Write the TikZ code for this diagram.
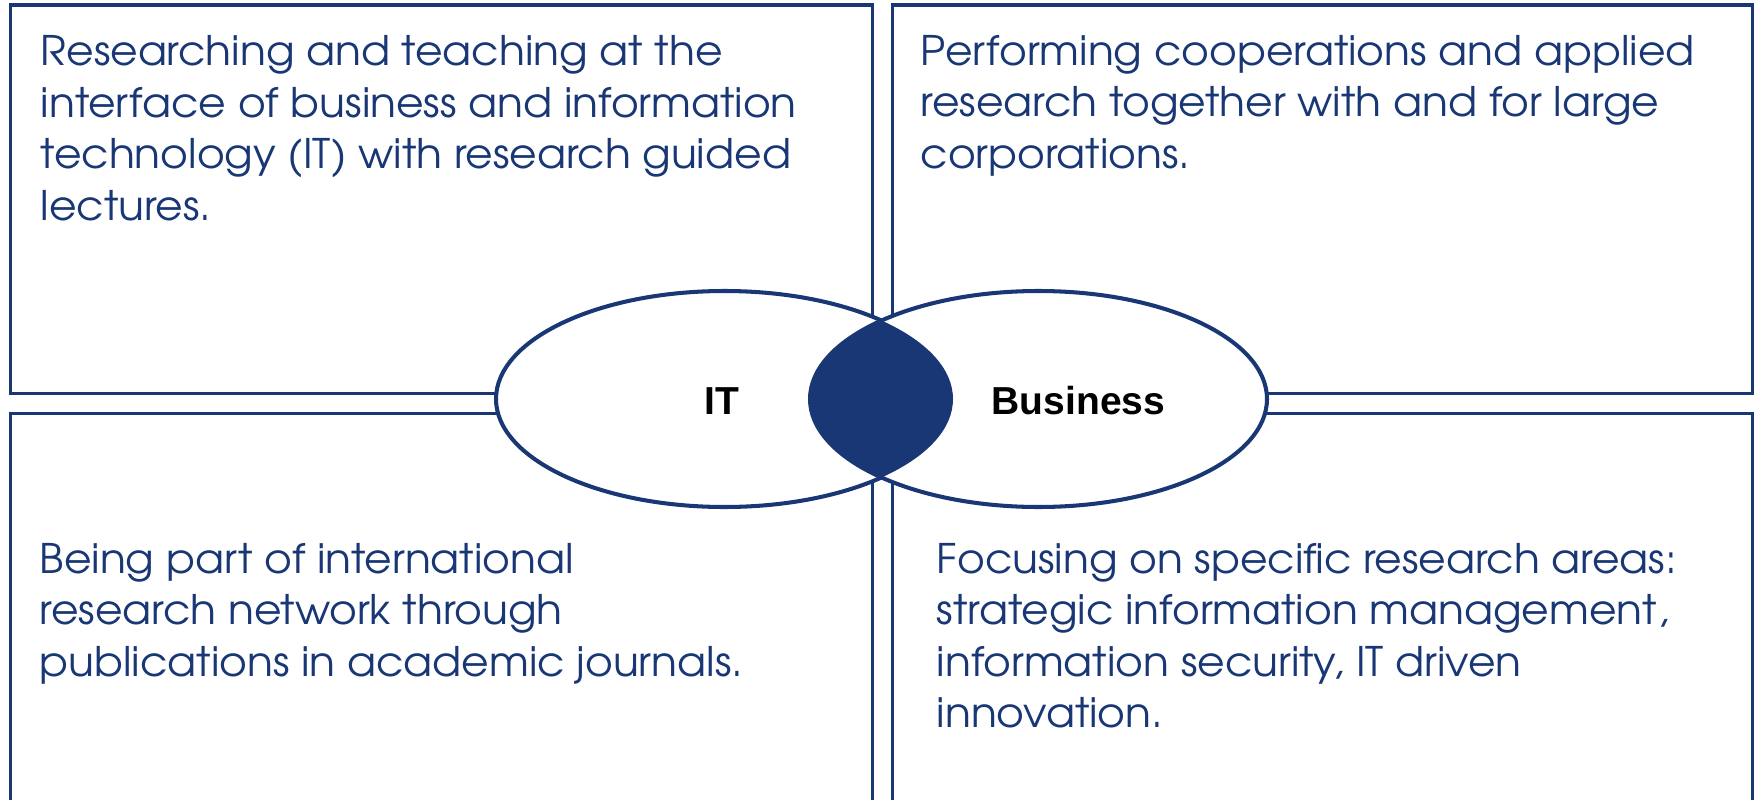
\documentclass[tikz,border=0pt]{standalone}
\usepackage{fontspec}
\setmainfont[FakeStretch=1.04]{TeX Gyre Adventor}
\newfontfamily\labelfont{Liberation Sans}
\definecolor{navy}{RGB}{24,55,116}
\tikzset{
  panel/.style={draw=navy, line width=1pt},
  lobe/.style={draw=navy, line width=1.15pt, fill=white},
  % anchored at the baseline of the last line
  blurb/.style={anchor=base west, align=left, inner sep=0pt, text=navy,
    font=\fontsize{11.6}{14.65}\selectfont},
  tag/.style={anchor=base, inner sep=0pt, font=\labelfont\bfseries\fontsize{11.1}{13}\selectfont}
}

\begin{document}
\begin{tikzpicture}
  \useasboundingbox (0,0) rectangle (17.58,7.99);
  \clip (0,0) rectangle (17.58,7.99);
  % four panels, the lower two run off the page
  \draw[panel] (0.105,4.055) rectangle (8.725,7.94);
  \draw[panel] (8.925,4.055) rectangle (17.525,7.94);
  \draw[panel] (0.105,-0.3) rectangle (8.725,3.855);
  \draw[panel] (8.925,-0.3) rectangle (17.525,3.855);
  % the two lobes and their overlap
  \draw[lobe] (7.245,4) ellipse (2.285 and 1.08);
  \draw[lobe] (10.385,4) ellipse (2.285 and 1.08);
  \begin{scope}
    \clip (7.245,4) ellipse (2.285 and 1.08);
    \fill[navy] (10.385,4) ellipse (2.285 and 1.08);
  \end{scope}
  \node[tag] (it) at (7.22,3.847) {IT};
  \node[tag] (business) at (10.785,3.847) {Business};
  % panel texts
  \node[blurb] (teaching) at (0.40,5.789) {Researching and teaching at the\\interface of business and information\\technology (IT) with research guided\\lectures.};
  \node[blurb] (cooperation) at (9.20,6.306) {Performing cooperations and applied\\research together with and for large\\corporations.};
  \node[blurb] (network) at (0.39,1.229) {Being part of international\\research network through\\publications in academic journals.};
  \node[blurb] (areas) at (9.36,0.712) {Focusing on specific research areas:\\strategic information management,\\information security, IT driven\\innovation.};
\end{tikzpicture}
\end{document}
